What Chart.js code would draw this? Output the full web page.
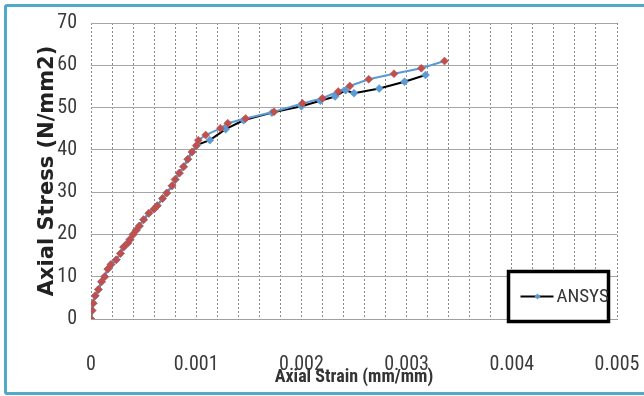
<!DOCTYPE html>
<html><head><meta charset="utf-8">
<script src="https://cdn.jsdelivr.net/npm/chart.js@4.4.1/dist/chart.umd.min.js"></script>
<style>
html,body{margin:0;padding:0;background:#fff;}
#wrap{position:relative;width:644px;height:396px;overflow:hidden;background:#fff;}
#frame{position:absolute;left:4px;top:4px;width:700px;height:385px;border:3px solid #52A9C7;border-radius:3px;}
canvas{position:absolute;left:0;top:0;}
</style></head>
<body><div id="wrap"><div id="frame"></div><canvas id="c" width="644" height="396"></canvas></div>
<script>
// ANSYS series (black line, blue diamonds)
const ansysStrain = [0,0.00001,0.00002,0.00004,0.00007,0.0001,0.00013,0.00016,0.00019,0.00024,0.00028,0.00031,0.00035,0.00037,0.0004,0.00043,0.00046,0.0005,0.00055,0.0006,0.00063,0.00068,0.00072,0.00077,0.0008,0.00084,0.00088,0.00092,0.00096,0.00101,0.00113,0.00128,0.00145,0.00172,0.002,0.00218,0.00232,0.00242,0.0025,0.00274,0.00298,0.00318];
const ansysStress = [0,2,3.7,5.5,7,8.8,10,11.8,12.9,14,15.5,17,18,18.8,20,21,22,23.5,25,26,26.8,28.5,29.8,31.5,33,34.5,36,37.8,39.5,41.2,42.3,44.9,47.0,48.8,50.3,51.6,52.6,54.1,53.4,54.5,56.1,57.7];
// Second series (blue line, red diamonds)
const expStrain = [0,0.00001,0.00002,0.00004,0.00007,0.0001,0.00013,0.00016,0.00019,0.00024,0.00028,0.00031,0.00035,0.00037,0.0004,0.00043,0.00046,0.0005,0.00055,0.0006,0.00063,0.00068,0.00072,0.00077,0.0008,0.00084,0.00088,0.00092,0.00096,0.001,0.00102,0.00109,0.00123,0.0013,0.00147,0.00174,0.00201,0.0022,0.00235,0.00246,0.00264,0.00288,0.00314,0.00336];
const expStress = [0,2,3.7,5.5,7,8.8,10,11.8,12.9,14,15.5,17,18,18.8,20,21,22,23.5,25,26,26.8,28.5,29.8,31.5,33,34.5,36,37.8,39.5,41,42.3,43.5,45.1,46.3,47.4,49.0,51.0,52.2,53.8,55.1,56.7,58.0,59.3,61.0];
const xTickLabels = ['0','0.001','0.002','0.003','0.004','0.005'];
const yTickLabels = ['0','10','20','30','40','50','60','70'];
const seriesNames = ['ANSYS','Experimental'];

const NARROW = "'Liberation Sans Narrow','Roboto Condensed','Liberation Sans',sans-serif";

const toPts = (xs, ys) => xs.map((x, i) => ({x: x, y: ys[i]}));

const boxLegend = {
  id: 'boxLegend',
  afterDraw(chart) {
    const ctx = chart.ctx;
    const ca = chart.chartArea;
    const ds = chart.data.datasets[0];
    const w = 100, h = 50;
    const x = ca.right - 108.5, y = ca.bottom - 47.5;
    ctx.save();
    ctx.fillStyle = '#fff';
    ctx.fillRect(x, y, w, h);
    ctx.lineWidth = 3.5;
    ctx.strokeStyle = '#000';
    ctx.strokeRect(x, y, w, h);
    const cy = y + 25;
    ctx.beginPath();
    ctx.moveTo(x + 12, cy); ctx.lineTo(x + 45, cy);
    ctx.lineWidth = ds.borderWidth; ctx.strokeStyle = ds.borderColor; ctx.stroke();
    const mx = x + 29, r = 3;
    ctx.beginPath();
    ctx.moveTo(mx, cy - r); ctx.lineTo(mx + r, cy); ctx.lineTo(mx, cy + r); ctx.lineTo(mx - r, cy); ctx.closePath();
    ctx.fillStyle = ds.pointBackgroundColor; ctx.fill();
    ctx.fillStyle = '#333';
    ctx.font = "19px " + NARROW;
    ctx.textBaseline = 'middle';
    ctx.textAlign = 'left';
    ctx.fillText(ds.label, x + 48, cy + 1);
    ctx.restore();
  }
};

new Chart(document.getElementById('c'), {
  type: 'line',
  data: {
    datasets: [
      {
        label: seriesNames[0],
        data: toPts(ansysStrain, ansysStress),
        borderColor: '#000000', borderWidth: 2,
        pointStyle: 'rectRot', pointRadius: 4,
        pointBackgroundColor: '#5B9BD5', pointBorderColor: '#5B9BD5', pointBorderWidth: 0.5,
        tension: 0, order: 2
      },
      {
        label: seriesNames[1],
        data: toPts(expStrain, expStress),
        borderColor: '#5B9BD5', borderWidth: 2,
        pointStyle: 'rectRot', pointRadius: 4,
        pointBackgroundColor: '#C0504D', pointBorderColor: '#C0504D', pointBorderWidth: 0.5,
        tension: 0, order: 1
      }
    ]
  },
  options: {
    responsive: false,
    animation: false,
    devicePixelRatio: 1,
    layout: {padding: {top: 23, right: 27, bottom: 0, left: 0}},
    plugins: {legend: {display: false}, tooltip: {enabled: false}},
    scales: {
      x: {
        type: 'linear', min: 0, max: 0.005,
        afterFit(s) { s.height = 77; },
        ticks: {
          stepSize: 0.0002, autoSkip: false, maxRotation: 0, minRotation: 0, padding: 2,
          color: '#3a3a3a', font: {family: NARROW, size: 20},
          callback(v) { const k = Math.round(v * 10000); return k % 10 === 0 ? xTickLabels[k / 10] : ''; }
        },
        grid: {color: '#8a8a8a', lineWidth: 1, drawTicks: true, tickLength: 32, tickColor: 'rgba(0,0,0,0)'},
        border: {display: true, color: '#a0a0a0', dash: [2, 2]},
        title: {display: true, text: 'Axial Strain (mm/mm)', color: '#333',
          font: {family: NARROW, size: 18, weight: 'bold'}, padding: {top: 0, bottom: 8}}
      },
      y: {
        min: 0, max: 70,
        afterFit(s) { s.width = 91; },
        ticks: {
          stepSize: 10, padding: 2, color: '#3a3a3a', font: {family: NARROW, size: 20},
          callback(v) { return yTickLabels[Math.round(v / 10)]; }
        },
        grid: {color: '#a6a6a6', lineWidth: 1, drawTicks: true, tickLength: 12, tickColor: 'rgba(0,0,0,0)'},
        border: {display: false},
        title: {display: true, text: 'Axial Stress (N/mm2)', color: '#222',
          font: {family: "'DejaVu Sans',Verdana,sans-serif", size: 21, weight: 'bold'}, padding: {top: 35, bottom: 0}}
      }
    }
  },
  plugins: [boxLegend]
});
</script>
</body></html>
